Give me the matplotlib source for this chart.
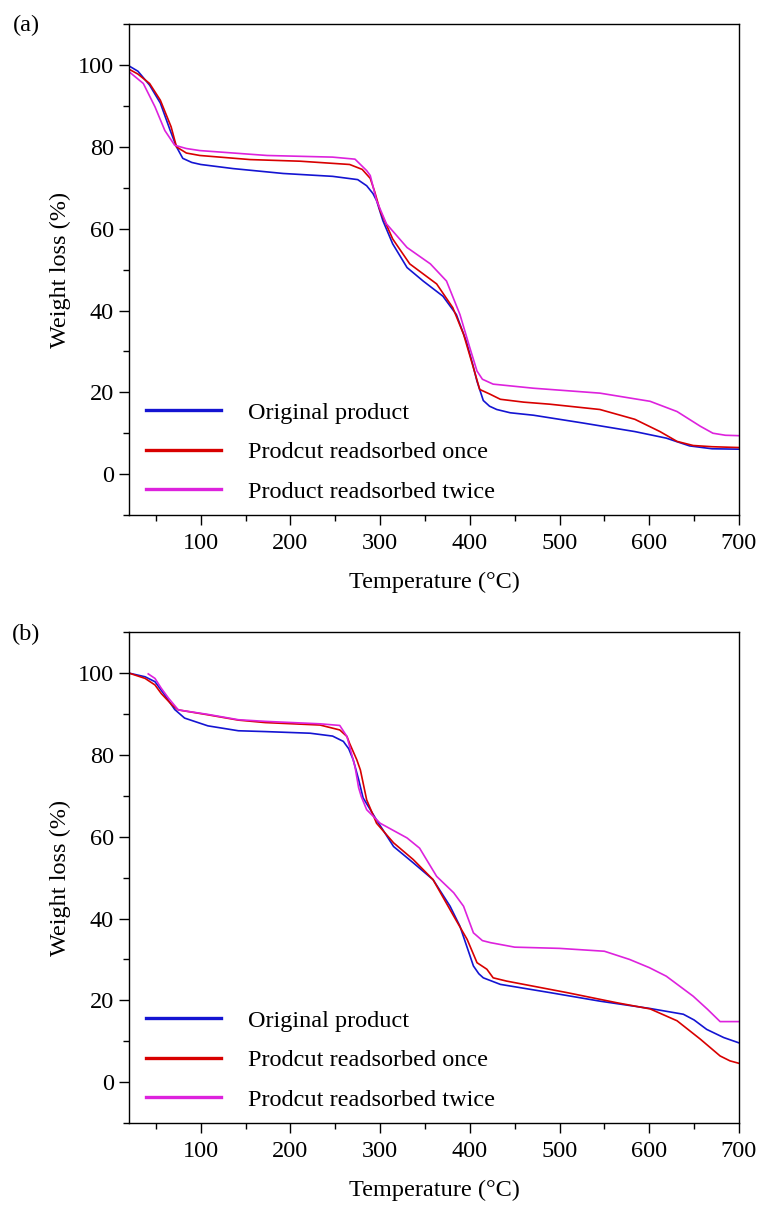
import matplotlib
matplotlib.use("Agg")
import matplotlib.pyplot as plt
from matplotlib.ticker import MultipleLocator

plt.rcParams["font.family"] = ["Liberation Serif", "DejaVu Serif"]
plt.rcParams["mathtext.fontset"] = "stix"

# ---- panel (a) ----
a_blue_x = [20, 30, 43, 55, 66, 73, 80, 90, 100, 136, 192, 247, 275, 285, 292, 296, 303, 314, 330,
            348, 370, 385, 396, 403, 408, 415, 422, 430, 445, 471, 526, 584, 619, 645, 670, 700]
a_blue_y = [99.8, 98.5, 95.1, 90.7, 84, 80, 77.2, 76.2, 75.7, 74.7, 73.5, 72.8, 72.0, 70.5, 68.6, 66.9,
            62, 56.3, 50.5, 47.2, 43.5, 39, 32.5, 27, 22.7, 18.0, 16.6, 15.8, 15, 14.4, 12.5, 10.4,
            8.8, 6.9, 6.2, 6.1]
a_red_x = [20, 30, 43, 55, 67, 73, 84, 99, 155, 211, 266, 280, 289, 294, 300, 314, 333, 363, 381, 393,
           404, 411, 422, 434, 460, 489, 545, 584, 612, 631, 649, 670, 700]
a_red_y = [99, 97.8, 95.5, 91.4, 84.9, 80, 78.5, 77.9, 76.9, 76.5, 75.7, 74.5, 72.3, 69, 64.4, 57.5,
           51.4, 46.5, 40.7, 34.2, 26, 20.7, 19.6, 18.3, 17.6, 17.1, 15.8, 13.4, 10.4, 8, 7, 6.7, 6.5]
a_mag_x = [20, 36, 49, 60, 71, 84, 99, 174, 247, 272, 285, 289, 296, 307, 330, 356, 374, 389, 400, 408,
           414, 426, 471, 545, 601, 631, 657, 671, 685, 700]
a_mag_y = [98.4, 95.5, 89.8, 84, 80.4, 79.6, 79.1, 77.9, 77.5, 77, 74.2, 73, 66.9, 61.2, 55.4, 51.4,
           47.2, 39, 30.9, 25.2, 23.2, 22, 21, 19.8, 17.8, 15.3, 11.7, 10, 9.5, 9.4]
a_labels = ["Original product", "Prodcut readsorbed once", "Product readsorbed twice"]

# ---- panel (b) ----
b_blue_x = [20, 38, 49, 60, 71, 82, 108, 142, 172, 222, 247, 259, 265, 270, 276, 281, 296, 315, 337,
            359, 378, 389, 400, 404, 410, 415, 434, 489, 545, 601, 638, 650, 664, 683, 700]
b_blue_y = [100, 99.1, 97.9, 94.6, 91.1, 89, 87.1, 85.9, 85.7, 85.3, 84.6, 83.3, 81.5, 78.8, 74, 69.5,
            64.1, 57.6, 53.6, 49.5, 43, 38.1, 31, 28.4, 26.5, 25.5, 23.9, 21.9, 19.8, 18, 16.6, 15.2,
            12.9, 10.9, 9.6]
b_red_x = [20, 38, 49, 56, 68, 75, 108, 142, 172, 233, 255, 263, 266, 274, 278, 285, 296, 315, 337,
           359, 382, 397, 408, 419, 426, 441, 508, 564, 601, 631, 657, 679, 690, 700]
b_red_y = [100, 98.7, 97.1, 95, 92.2, 91, 89.8, 88.5, 87.9, 87.3, 86.1, 84.5, 82.8, 78.8, 76.3, 69,
           63.3, 58.5, 54.4, 49.5, 40.6, 34.9, 29.2, 27.6, 25.5, 24.7, 21.9, 19.4, 17.9, 15, 10.5,
           6.4, 5.2, 4.6]
b_mag_x = [41.5, 49, 56, 64, 75, 108, 142, 172, 233, 255, 263, 268, 272, 276, 279, 285, 300, 330, 344,
           363, 382, 393, 404, 414, 423, 450, 500, 550, 578, 600, 619, 649, 665, 679, 685, 700]
b_mag_y = [99.8, 98.7, 96.3, 93.9, 91, 89.9, 88.6, 88.2, 87.6, 87.2, 84.5, 80.4, 77.1, 72, 69.8, 66.6,
           63.3, 59.7, 57.2, 50.3, 46.3, 43, 36.5, 34.6, 34.1, 33, 32.7, 32, 30, 28, 25.9, 21, 17.8,
           14.8, 14.8, 14.8]
b_labels = ["Original product", "Prodcut readsorbed once", "Prodcut readsorbed twice"]

BLUE = "#1414d2"
RED = "#d80000"
MAGENTA = "#dd22dd"
FS = 17.5


def draw_panel(ax, series, labels):
    for (x, y), color, label in zip(series, [BLUE, RED, MAGENTA], labels):
        ax.plot(x, y, color=color, linewidth=1.2, label=label)
    ax.set_xlim(20, 700)
    ax.set_ylim(-10, 110)
    ax.xaxis.set_major_locator(MultipleLocator(100))
    ax.xaxis.set_minor_locator(MultipleLocator(50))
    ax.yaxis.set_major_locator(MultipleLocator(20))
    ax.yaxis.set_minor_locator(MultipleLocator(10))
    ax.tick_params(which="both", direction="out", top=False, right=False, width=1.0,
                   labelsize=FS)
    ax.tick_params(which="major", length=7)
    ax.tick_params(which="minor", length=4)
    ax.tick_params(axis="x", pad=6)
    ax.tick_params(axis="y", pad=4)
    for s in ax.spines.values():
        s.set_linewidth(1.0)
    ax.set_xlabel("Temperature (°C)", fontsize=FS, labelpad=13)
    ax.set_ylabel("Weight loss (%)", fontsize=FS, labelpad=5)
    leg = ax.legend(loc="lower left", bbox_to_anchor=(0.028, 0.025), frameon=False,
                    fontsize=FS, handlelength=3.1, handletextpad=1.1, labelspacing=0.72,
                    borderpad=0, borderaxespad=0)
    for line in leg.get_lines():
        line.set_linewidth(2.4)


fig = plt.figure(figsize=(7.64, 12.09), dpi=100)
ax_a = fig.add_axes([0.1688, 0.574, 0.7984, 0.406])
ax_b = fig.add_axes([0.1688, 0.0711, 0.7984, 0.406])

draw_panel(ax_a, [(a_blue_x, a_blue_y), (a_red_x, a_red_y), (a_mag_x, a_mag_y)], a_labels)
draw_panel(ax_b, [(b_blue_x, b_blue_y), (b_red_x, b_red_y), (b_mag_x, b_mag_y)], b_labels)

fig.text(0.034, 0.979, "(a)", fontsize=FS, ha="center", va="center")
fig.text(0.034, 0.4756, "(b)", fontsize=FS, ha="center", va="center")

fig.savefig("out.png", dpi=100)
